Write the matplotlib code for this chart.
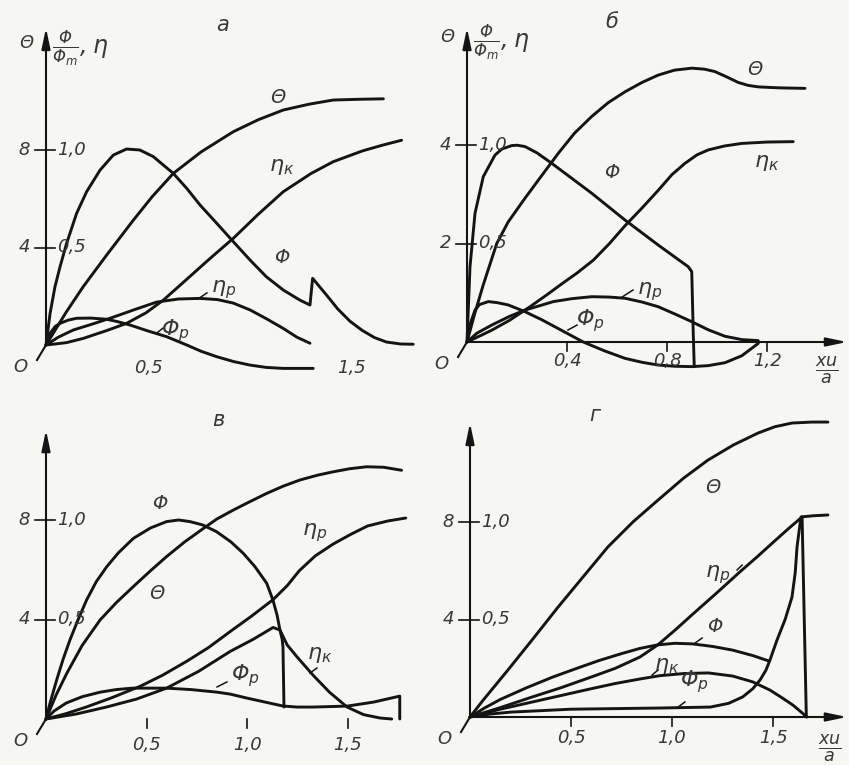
import matplotlib.pyplot as plt

plt.rcParams['font.family'] = 'DejaVu Sans'
plt.rcParams['font.style'] = 'italic'
plt.rcParams['mathtext.fontset'] = 'custom'
plt.rcParams['mathtext.rm'] = 'DejaVu Sans:italic'
plt.rcParams['mathtext.it'] = 'DejaVu Sans:italic'
plt.rcParams['mathtext.sf'] = 'DejaVu Sans:italic'

INK = '#141414'
TXT = '#383838'
BG = '#f6f6f3'
W, H = 849, 765

# ---------------- panel а ----------------
a_theta_x = [0, 0.1, 0.183, 0.3, 0.428, 0.52, 0.624, 0.76, 0.918, 1.04, 1.163, 1.29,
             1.408, 1.53, 1.654]
a_theta = [0, 1.36, 2.4, 3.72, 5.12, 6.08, 7.04, 7.92, 8.75, 9.24, 9.64, 9.88,
           10.05, 10.08, 10.1]
a_phi_x = [0, 0.02, 0.044, 0.069, 0.101, 0.15, 0.199, 0.265, 0.33, 0.395, 0.46, 0.526,
           0.624, 0.69, 0.755, 0.837, 0.918, 1.0, 1.08, 1.163, 1.245, 1.294,
           1.307, 1.34, 1.376, 1.43, 1.49, 1.55, 1.61, 1.67, 1.74, 1.8]
a_phi = [0, 0.162, 0.299, 0.402, 0.521, 0.675, 0.786, 0.897, 0.974, 1.005, 1.0, 0.966,
         0.88, 0.803, 0.718, 0.624, 0.53, 0.436, 0.35, 0.282, 0.23, 0.205,
         0.342, 0.3, 0.255, 0.185, 0.122, 0.075, 0.038, 0.015, 0.005, 0.004]
a_eta_k_x = [0, 0.1, 0.183, 0.3, 0.395, 0.49, 0.575, 0.69, 0.8, 0.918, 1.04, 1.163,
             1.3, 1.408, 1.55, 1.65, 1.743]
a_eta_k = [0, 0.012, 0.034, 0.075, 0.111, 0.165, 0.23, 0.337, 0.44, 0.547, 0.67, 0.786,
           0.88, 0.94, 0.995, 1.025, 1.05]
a_eta_p_x = [0, 0.06, 0.134, 0.22, 0.314, 0.43, 0.542, 0.65, 0.755, 0.84, 0.918, 1.0,
             1.08, 1.163, 1.23, 1.294]
a_eta_p = [0, 0.04, 0.077, 0.105, 0.137, 0.18, 0.22, 0.236, 0.239, 0.233, 0.215, 0.18,
           0.135, 0.085, 0.04, 0.009]
a_phi_p_x = [0, 0.02, 0.045, 0.069, 0.11, 0.15, 0.22, 0.297, 0.35, 0.41, 0.5, 0.59,
             0.69, 0.76, 0.837, 0.92, 1.0, 1.08, 1.163, 1.31]
a_phi_p = [0, 0.06, 0.095, 0.111, 0.128, 0.137, 0.138, 0.132, 0.12, 0.103, 0.072, 0.043,
           0.0, -0.032, -0.06, -0.085, -0.103, -0.115, -0.12, -0.12]

# ---------------- panel б ----------------
b_theta_x = [0, 0.03, 0.065, 0.119, 0.165, 0.232, 0.299, 0.365, 0.43, 0.499, 0.565,
             0.632, 0.7, 0.765, 0.83, 0.899, 0.95, 0.992, 1.04, 1.085, 1.125, 1.165,
             1.25, 1.352]
b_theta = [0, 0.56, 1.16, 2.0, 2.44, 2.92, 3.38, 3.83, 4.24, 4.58, 4.86,
           5.08, 5.27, 5.42, 5.52, 5.56, 5.54, 5.49, 5.38, 5.27, 5.21, 5.18,
           5.16, 5.15]
b_phi_x = [0, 0.012, 0.032, 0.065, 0.112, 0.14, 0.179, 0.2, 0.232, 0.28, 0.339, 0.499,
           0.632, 0.765, 0.885, 0.899, 0.905, 0.909]
b_phi = [0, 0.382, 0.653, 0.839, 0.949, 0.98, 0.997, 0.999, 0.992, 0.96, 0.907, 0.755,
         0.619, 0.492, 0.382, 0.357, 0.044, -0.125]
b_eta_k_x = [0, 0.05, 0.099, 0.17, 0.252, 0.32, 0.379, 0.44, 0.505, 0.57, 0.632, 0.7,
             0.765, 0.82, 0.872, 0.92, 0.965, 1.03, 1.099, 1.2, 1.305]
b_eta_k = [0, 0.03, 0.06, 0.11, 0.179, 0.24, 0.295, 0.35, 0.415, 0.5, 0.59, 0.68,
           0.77, 0.85, 0.907, 0.95, 0.975, 0.995, 1.008, 1.015, 1.017]
b_eta_p_x = [0, 0.04, 0.099, 0.17, 0.232, 0.345, 0.42, 0.499, 0.57, 0.632, 0.7, 0.765,
             0.83, 0.899, 0.965, 1.032, 1.1, 1.165]
b_eta_p = [0, 0.045, 0.086, 0.13, 0.162, 0.205, 0.22, 0.23, 0.228, 0.222, 0.203, 0.179,
           0.143, 0.103, 0.062, 0.029, 0.012, 0.007]
b_phi_p_x = [0, 0.015, 0.032, 0.05, 0.085, 0.12, 0.165, 0.23, 0.299, 0.38, 0.465, 0.55,
             0.632, 0.7, 0.765, 0.83, 0.899, 0.965, 1.032, 1.099, 1.165]
b_phi_p = [0, 0.1, 0.162, 0.19, 0.205, 0.2, 0.188, 0.155, 0.113, 0.058, 0.0, -0.045,
           -0.083, -0.103, -0.117, -0.123, -0.125, -0.12, -0.105, -0.07, -0.007]

# ---------------- panel в ----------------
c_theta_x = [0, 0.05, 0.103, 0.18, 0.269, 0.35, 0.434, 0.52, 0.6, 0.69, 0.783, 0.85,
             0.932, 1.0, 1.098, 1.18, 1.264, 1.35, 1.43, 1.51, 1.595, 1.68, 1.769]
c_theta = [0, 0.96, 1.83, 2.96, 3.98, 4.68, 5.32, 5.96, 6.53, 7.12, 7.66, 8.04,
           8.4, 8.68, 9.07, 9.36, 9.61, 9.8, 9.94, 10.06, 10.14, 10.12, 10.0]
c_phi_x = [0, 0.02, 0.053, 0.085, 0.119, 0.16, 0.202, 0.25, 0.302, 0.36, 0.435, 0.52,
           0.6, 0.66, 0.716, 0.78, 0.849, 0.92, 0.982, 1.04, 1.098, 1.129, 1.15, 1.164,
           1.175, 1.179, 1.184]
c_phi = [0, 0.08, 0.196, 0.3, 0.397, 0.5, 0.598, 0.69, 0.765, 0.835, 0.908, 0.96,
         0.992, 1.0, 0.992, 0.975, 0.941, 0.89, 0.832, 0.765, 0.682, 0.598, 0.52, 0.447,
         0.4, 0.362, 0.06]
c_eta_p_x = [0, 0.1, 0.2, 0.33, 0.47, 0.58, 0.7, 0.81, 0.917, 1.02, 1.13, 1.2, 1.26,
             1.34, 1.43, 1.52, 1.6, 1.7, 1.79]
c_eta_p = [0, 0.027, 0.06, 0.108, 0.165, 0.22, 0.29, 0.36, 0.44, 0.515, 0.6, 0.67, 0.745,
           0.82, 0.88, 0.93, 0.97, 0.995, 1.01]
c_eta_k_x = [0, 0.15, 0.3, 0.45, 0.6, 0.76, 0.917, 1.03, 1.13, 1.164, 1.2, 1.249, 1.328,
             1.41, 1.498, 1.58, 1.662, 1.72]
c_eta_k = [0, 0.025, 0.06, 0.1, 0.155, 0.24, 0.34, 0.4, 0.46, 0.447, 0.372, 0.312, 0.221,
           0.135, 0.06, 0.022, 0.005, 0.0]
c_phi_p_x = [0, 0.04, 0.1, 0.18, 0.27, 0.35, 0.43, 0.6, 0.72, 0.85, 0.917, 1.0, 1.09,
             1.18, 1.25, 1.33, 1.5, 1.63, 1.76, 1.76]
c_phi_p = [0, 0.04, 0.08, 0.112, 0.135, 0.148, 0.155, 0.155, 0.148, 0.135, 0.125, 0.105,
           0.085, 0.065, 0.06, 0.06, 0.065, 0.085, 0.115, 0.0]

# ---------------- panel г ----------------
d_theta_x = [0, 0.066, 0.188, 0.313, 0.436, 0.561, 0.683, 0.809, 0.931, 1.056, 1.178,
             1.304, 1.426, 1.51, 1.594, 1.692, 1.772]
d_theta = [0, 0.7, 1.93, 3.22, 4.51, 5.76, 6.98, 8.02, 8.9, 9.79, 10.54,
           11.16, 11.65, 11.91, 12.06, 12.1, 12.1]
d_phi_x = [0, 0.07, 0.15, 0.28, 0.41, 0.53, 0.64, 0.75, 0.842, 0.93, 1.015, 1.1, 1.2,
           1.3, 1.4, 1.48]
d_phi = [0, 0.045, 0.09, 0.15, 0.205, 0.25, 0.29, 0.325, 0.352, 0.37, 0.378, 0.375, 0.362,
         0.343, 0.315, 0.287]
d_eta_p_x = [0, 0.15, 0.3, 0.45, 0.6, 0.72, 0.842, 0.93, 1.02, 1.1, 1.22, 1.337, 1.42,
             1.5, 1.57, 1.644, 1.665]
d_eta_p = [0, 0.048, 0.1, 0.15, 0.205, 0.25, 0.308, 0.37, 0.45, 0.525, 0.635, 0.745, 0.82,
           0.895, 0.96, 1.026, 0.0]
d_eta_k_x = [0, 0.15, 0.3, 0.45, 0.6, 0.72, 0.842, 0.94, 1.06, 1.18, 1.3, 1.4, 1.485,
             1.55, 1.6, 1.668]
d_eta_k = [0, 0.04, 0.075, 0.11, 0.145, 0.172, 0.195, 0.212, 0.223, 0.226, 0.21, 0.18,
           0.138, 0.095, 0.06, 0.0]
d_phi_p_x = [0, 0.1, 0.2, 0.5, 0.94, 1.19, 1.28, 1.35, 1.4, 1.436, 1.465, 1.485, 1.52,
             1.56, 1.594, 1.61, 1.619, 1.63, 1.639, 1.7, 1.772]
d_phi_p = [0, 0.015, 0.025, 0.04, 0.046, 0.051, 0.07, 0.103, 0.145, 0.19, 0.24, 0.292,
           0.395, 0.5, 0.615, 0.74, 0.872, 0.96, 1.026, 1.032, 1.036]

# tick labels
y_ticks = [0.5, 1.0]
y_tick_labels = ['0,5', '1,0']
theta_labels_8 = ['4', '8']
theta_labels_4 = ['2', '4']
x_ticks_a = [0.5, 1.5]
x_ticks_b = [0.4, 0.8, 1.2]
x_ticks_cd = [0.5, 1.0, 1.5]


def fmt(v):
    return ('%.1f' % v).replace('.', ',')


fig = plt.figure(figsize=(W / 100, H / 100), dpi=100)
fig.patch.set_facecolor(BG)


def panel(box, origin, scale):
    l, t, r, b = box
    ox, oy = origin
    sx, sy = scale
    ax = fig.add_axes([l / W, 1 - b / H, (r - l) / W, (b - t) / H])
    ax.set_xlim((l - ox) / sx, (r - ox) / sx)
    ax.set_ylim((oy - b) / sy, (oy - t) / sy)
    ax.set_axis_off()
    ax.patch.set_alpha(0)
    ax.sx, ax.sy = sx, sy
    return ax


def frame(ax, x_tip, y_tip, xticks, theta_labels, tick_marks=True, xlab_dy=-22):
    sx, sy = ax.sx, ax.sy
    arrow = dict(arrowstyle='-|>,head_length=0.95,head_width=0.2', lw=1.5,
                 color=INK, shrinkA=0, shrinkB=0, mutation_scale=13)
    ax.annotate('', xy=(x_tip, 0), xytext=(0, 0), arrowprops=arrow)
    ax.annotate('', xy=(0, y_tip), xytext=(0, 0), arrowprops=arrow)
    ax.plot([0, -9 / sx], [0, -15 / sy], color=INK, lw=1.5)
    ax.annotate('O', xy=(0, 0), xytext=(-26, -22), textcoords='offset pixels',
                ha='center', va='center', fontsize=13, color=TXT)
    for v, lab, th in zip(y_ticks, y_tick_labels, theta_labels):
        ax.plot([-11 / sx, 9 / sx], [v, v], color=INK, lw=1.2)
        ax.annotate(lab, xy=(0, v), xytext=(11, 0), textcoords='offset pixels',
                    ha='left', va='center', fontsize=13, color=TXT)
        ax.annotate(th, xy=(0, v), xytext=(-16, 0), textcoords='offset pixels',
                    ha='right', va='center', fontsize=13, color=TXT)
    for v in xticks:
        if tick_marks:
            ax.plot([v, v], [0, -9 / sy], color=INK, lw=1.2)
        ax.annotate(fmt(v), xy=(v, 0), xytext=(0, xlab_dy), textcoords='offset pixels',
                    ha='center', va='center', fontsize=13, color=TXT)


def curve(ax, x, y):
    ax.plot(x, y, color=INK, lw=2.1, solid_joinstyle='round',
            solid_capstyle='round', clip_on=False)


def tag(ax, s, xy, size=14, lead=None):
    ax.text(xy[0], xy[1], s, ha='center', va='center', fontsize=size, color=TXT)
    if lead is not None:
        ax.plot([lead[0][0], lead[1][0]], [lead[0][1], lead[1][1]], color=INK, lw=1.1)


def ylabel(ax):
    ax.annotate('Θ', xy=(0, 1.55), xytext=(-12, 0), textcoords='offset pixels',
                ha='right', va='center', fontsize=13, color=TXT)
    ax.annotate(r'$\frac{Φ}{Φ_m}, η$', xy=(0, 1.52), xytext=(6, 0),
                textcoords='offset pixels', ha='left', va='center', fontsize=17, color=TXT)


# ---- а ----
ax = panel((0, 0, 430, 380), (46, 345), (204, 195))
frame(ax, 1.9, 1.626, x_ticks_a, theta_labels_8, tick_marks=False, xlab_dy=-23)
ylabel(ax)
curve(ax, a_theta_x, [v / 8 for v in a_theta])
curve(ax, a_phi_x, a_phi)
curve(ax, a_eta_k_x, a_eta_k)
curve(ax, a_eta_p_x, a_eta_p)
curve(ax, a_phi_p_x, a_phi_p)
tag(ax, 'а', (0.863, 1.641), 15)
tag(ax, 'Θ', (1.137, 1.267))
tag(ax, r'$η_{к}$', (1.157, 0.913), 16)
tag(ax, 'Φ', (1.157, 0.451))
tag(ax, r'$η_{р}$', (0.87, 0.282), 16, ((0.745, 0.236), (0.789, 0.267)))
tag(ax, r'$Φ_{р}$', (0.635, 0.075), 16, ((0.544, 0.062), (0.574, 0.087)))

# ---- б ----
ax = panel((425, 0, 849, 380), (467, 342), (250, 197))
frame(ax, 1.52, 1.594, x_ticks_b, theta_labels_4, xlab_dy=-19)
ylabel(ax)
curve(ax, b_theta_x, [v / 4 for v in b_theta])
curve(ax, b_phi_x, b_phi)
curve(ax, b_eta_k_x, b_eta_k)
curve(ax, b_eta_p_x, b_eta_p)
curve(ax, b_phi_p_x, b_phi_p)
tag(ax, 'б', (0.58, 1.624), 15)
tag(ax, 'Θ', (1.152, 1.381))
tag(ax, r'$η_{к}$', (1.2, 0.909), 16)
tag(ax, 'Φ', (0.58, 0.858))
tag(ax, r'$η_{р}$', (0.73, 0.254), 16, ((0.62, 0.228), (0.664, 0.264)))
tag(ax, r'$Φ_{р}$', (0.495, 0.11), 16, ((0.404, 0.061), (0.44, 0.086)))
ax.annotate(r'$\frac{xu}{a}$', xy=(1.52, 0), xytext=(-20, -28), textcoords='offset pixels',
            ha='center', va='center', fontsize=18, color=TXT, annotation_clip=False)

# ---- в ----
ax = panel((0, 385, 430, 765), (46, 719), (201, 199))
frame(ax, 1.945, 1.452, x_ticks_cd, theta_labels_8, xlab_dy=-26)
curve(ax, c_theta_x, [v / 8 for v in c_theta])
curve(ax, c_phi_x, c_phi)
curve(ax, c_eta_p_x, c_eta_p)
curve(ax, c_eta_k_x, c_eta_k)
curve(ax, c_phi_p_x, c_phi_p)
tag(ax, 'в', (0.856, 1.503), 15)
tag(ax, 'Φ', (0.567, 1.085))
tag(ax, r'$η_{р}$', (1.335, 0.935), 16)
tag(ax, 'Θ', (0.552, 0.633))
tag(ax, r'$η_{к}$', (1.36, 0.32), 16, ((1.313, 0.231), (1.348, 0.256)))
tag(ax, r'$Φ_{р}$', (0.99, 0.22), 16, ((0.851, 0.161), (0.9, 0.186)))

# ---- г ----
ax = panel((425, 385, 849, 765), (470, 717), (202, 195))
frame(ax, 1.866, 1.508, x_ticks_cd, theta_labels_8, xlab_dy=-21)
curve(ax, d_theta_x, [v / 8 for v in d_theta])
curve(ax, d_phi_x, d_phi)
curve(ax, d_eta_p_x, d_eta_p)
curve(ax, d_eta_k_x, d_eta_k)
curve(ax, d_phi_p_x, d_phi_p)
tag(ax, 'г', (0.619, 1.549), 15)
tag(ax, 'Θ', (1.203, 1.179))
tag(ax, r'$η_{р}$', (1.228, 0.728), 16, ((1.322, 0.754), (1.347, 0.779)))
tag(ax, 'Φ', (1.213, 0.462), 14, ((1.114, 0.379), (1.149, 0.405)))
tag(ax, r'$η_{к}$', (0.975, 0.262), 16, ((0.901, 0.215), (0.931, 0.241)))
tag(ax, r'$Φ_{р}$', (1.11, 0.18), 16, ((1.03, 0.051), (1.064, 0.077)))
ax.annotate(r'$\frac{xu}{a}$', xy=(1.866, 0), xytext=(-17, -31), textcoords='offset pixels',
            ha='center', va='center', fontsize=18, color=TXT, annotation_clip=False)

fig.savefig('out.png', dpi=100, facecolor=BG)
